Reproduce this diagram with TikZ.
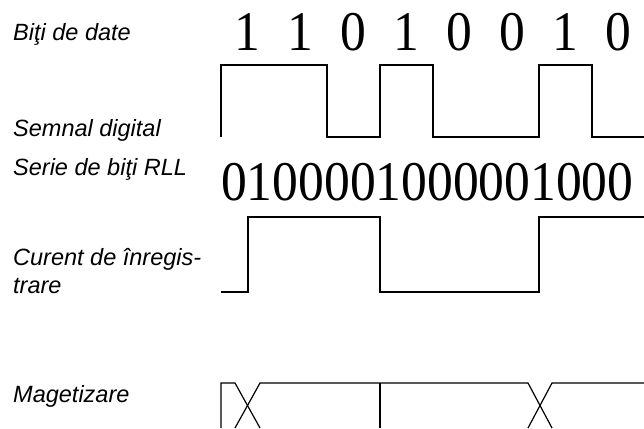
\documentclass[tikz,border=0pt]{standalone}
\usepackage{fontspec}
\setmainfont{Liberation Serif}
\setsansfont{Liberation Sans}
\usepackage{tikz}
\newcommand{\narrowdig}[1]{\scalebox{0.92}[1]{#1}}

\begin{document}
\begin{tikzpicture}[x=1pt,y=-1pt]
        \tikzset{rowlabel/.style = {anchor=base west, inner sep=0pt, font=\sffamily\itshape\fontsize{23.5}{27}\selectfont},
                 digit/.style = {anchor=base, inner sep=0pt, font=\fontsize{56}{60}\selectfont},
                 wave/.style = {line width=1.2pt, line join=miter}}
        \useasboundingbox (0,0) rectangle (644,428);
        % labels
        \node[rowlabel] (date)   at (13,41)  {Biţi de date};
        \node[rowlabel] (semnal) at (13,136) {Semnal digital};
        \node[rowlabel] (serie)  at (13,175) {Serie de biţi RLL};
        \node[rowlabel] (curent) at (13,265) {Curent de înregis-};
        \node[rowlabel] (trare)  at (13,293) {trare};
        \node[rowlabel] (magnet) at (13,402) {Magetizare};
        % bits
        \foreach \b [count=\i] in {1,1,0,1,0,0,1,0}
                \node[digit] (d\i) at (194.5+53*\i,51) {\narrowdig{\b}};
        \node[digit, anchor=base west] (rll) at (221,200) {\narrowdig{0100001000001000}};
        % digital signal
        \draw[wave] (221,137) -- (221,65) -- (327,65) -- (327,137) -- (380,137) -- (380,65)
                -- (433,65) -- (433,137) -- (539,137) -- (539,65) -- (592,65) -- (592,137) -- (644,137);
        % write current
        \draw[wave] (221,292) -- (248,292) -- (248,217) -- (380,217) -- (380,292)
                -- (539,292) -- (539,217) -- (644,217);
        % magnetization
        \draw[wave] (221,428) -- (221,383) -- (235,383) -- (260,428);
        \draw[wave] (235,428) -- (260,383) -- (528,383) -- (552,428);
        \draw[wave] (528,428) -- (552,383) -- (644,383);
        \draw[wave] (380,383) -- (380,428);
\end{tikzpicture}
\end{document}
